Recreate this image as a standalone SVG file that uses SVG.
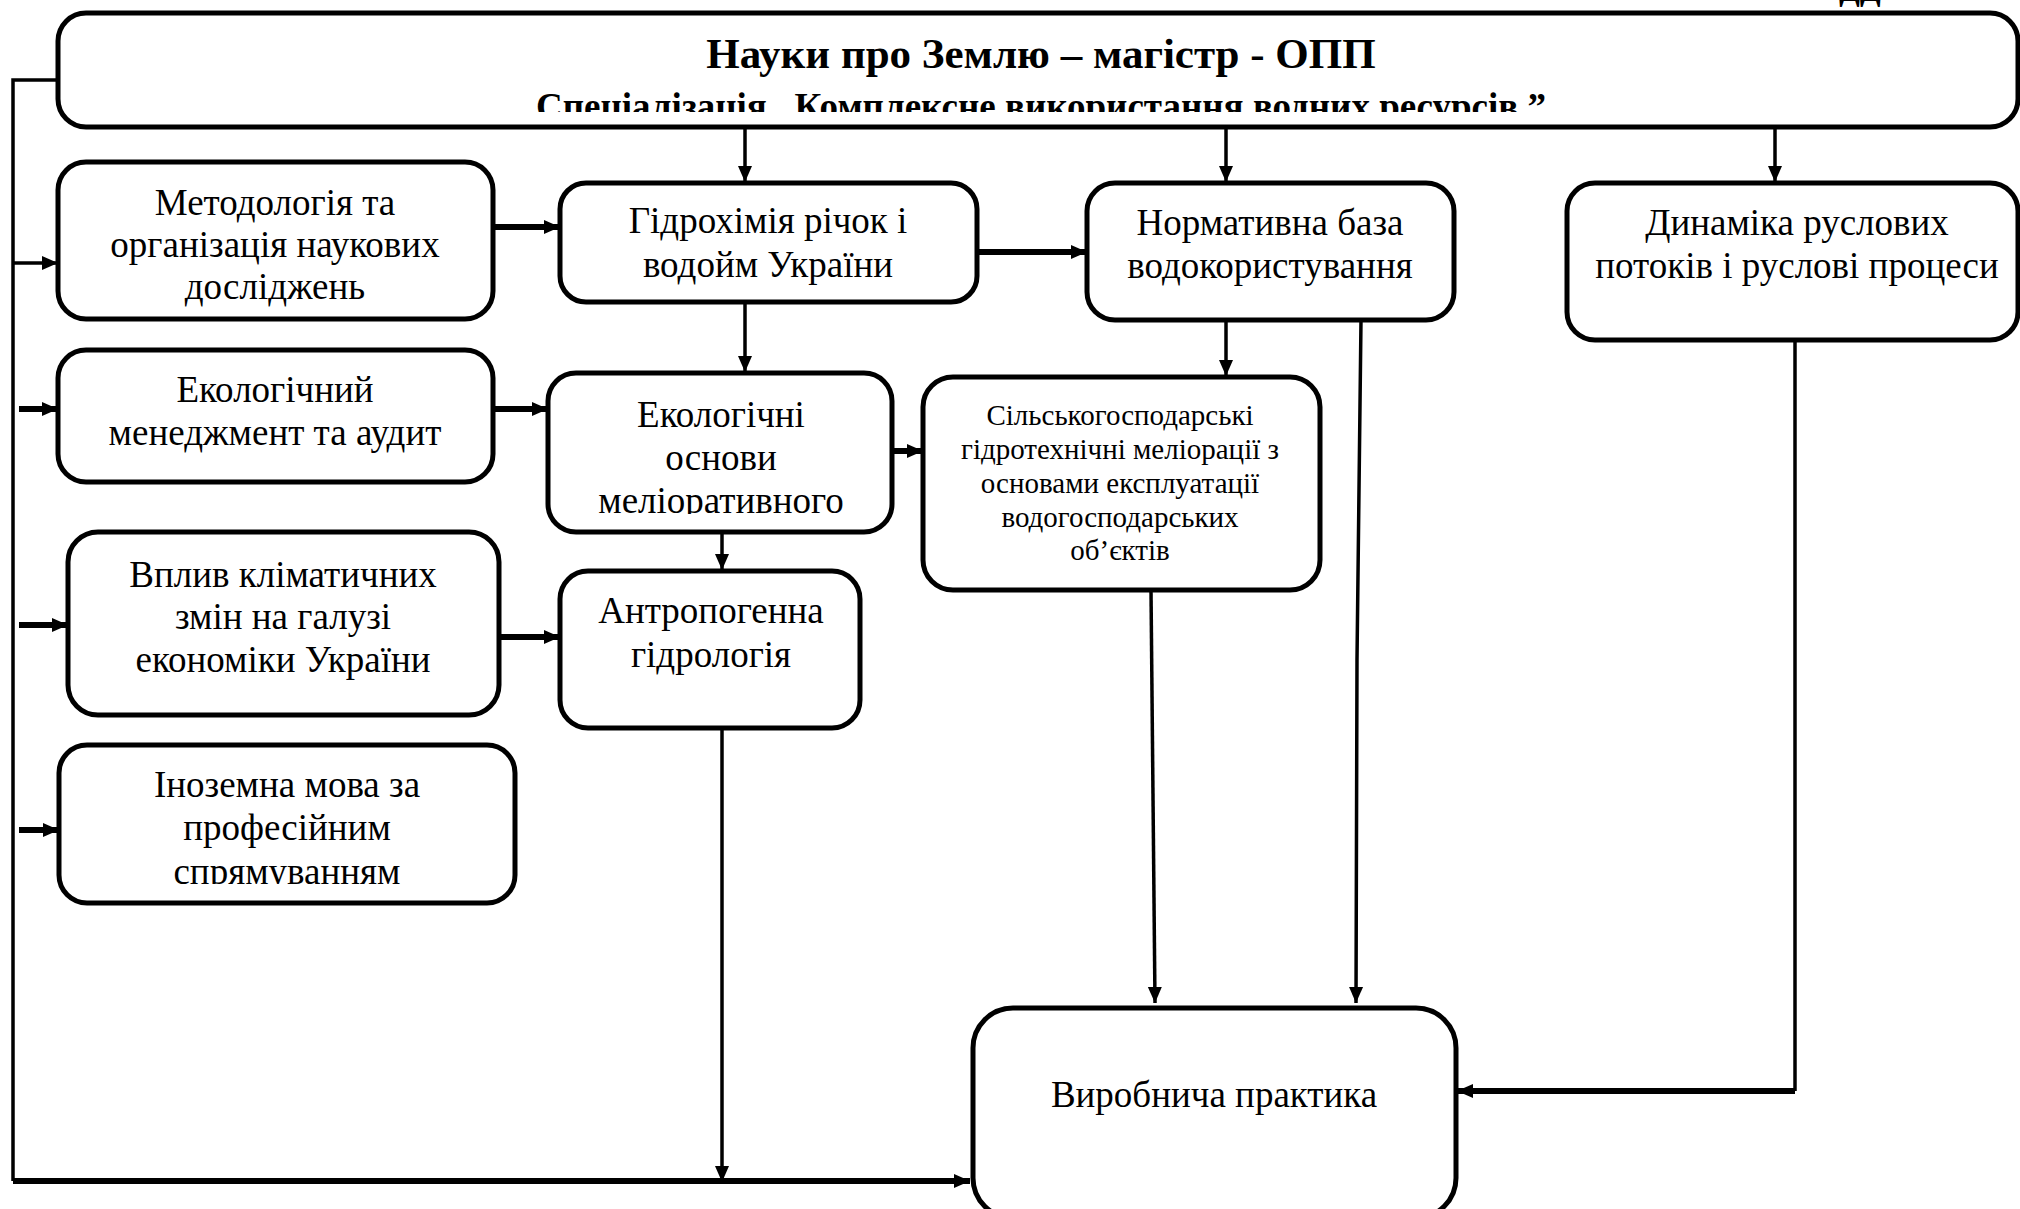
<svg xmlns="http://www.w3.org/2000/svg" width="2020" height="1209" viewBox="0 0 2020 1209">
<style>
.box{fill:#fff;stroke:#000;stroke-width:5}
.t{font-family:"Liberation Serif","Times New Roman",serif;font-size:37px;fill:#000;text-anchor:middle}
.ts{font-family:"Liberation Serif","Times New Roman",serif;font-size:29px;fill:#000;text-anchor:middle}
.tb{font-family:"Liberation Serif","Times New Roman",serif;font-weight:bold;fill:#000;text-anchor:middle}
.c{fill:none;stroke:#000;stroke-width:3.5}
.ck{fill:none;stroke:#000;stroke-width:6}
</style>
<defs>
<marker id="ah" markerUnits="userSpaceOnUse" markerWidth="18" markerHeight="16" refX="16" refY="8" orient="auto">
<path d="M0,1 L16,8 L0,15 Z" fill="#000"/>
</marker>
<clipPath id="clipTop"><rect x="58" y="13" width="1960" height="99"/></clipPath>
<clipPath id="clipEko"><rect x="548" y="373" width="344" height="141"/></clipPath>
<clipPath id="clipIno"><rect x="59" y="745" width="456" height="139"/></clipPath>
</defs>

<text class="tb" x="1860" y="1" font-size="30">ДД</text>

<g id="connectors">
<path class="c" d="M58,80 H13 V1181"/>
<path class="ck" d="M13,1181 H970" marker-end="url(#ah)"/>
<path class="c" d="M13,263 H58" marker-end="url(#ah)"/>
<path class="ck" d="M19,409 H58" marker-end="url(#ah)"/>
<path class="ck" d="M19,625 H68" marker-end="url(#ah)"/>
<path class="ck" d="M19,830 H59" marker-end="url(#ah)"/>
<path class="c" d="M745,127 V182" marker-end="url(#ah)"/>
<path class="c" d="M1226,127 V182" marker-end="url(#ah)"/>
<path class="c" d="M1775,127 V182" marker-end="url(#ah)"/>
<path class="ck" d="M493,227 H560" marker-end="url(#ah)"/>
<path class="ck" d="M977,252 H1087" marker-end="url(#ah)"/>
<path class="c" d="M745,302 V372" marker-end="url(#ah)"/>
<path class="ck" d="M493,409 H548" marker-end="url(#ah)"/>
<path class="ck" d="M892,451 H923" marker-end="url(#ah)"/>
<path class="c" d="M1226,320 V376" marker-end="url(#ah)"/>
<path class="c" d="M722,525 V570" marker-end="url(#ah)"/>
<path class="ck" d="M499,637 H560" marker-end="url(#ah)"/>
<path class="c" d="M722,728 V1182" marker-end="url(#ah)"/>
<path class="c" d="M1151,590 L1155,1003" marker-end="url(#ah)"/>
<path class="c" d="M1361,320 L1357,660 L1356,1003" marker-end="url(#ah)"/>
<path class="c" d="M1795,340 V1091"/>
<path class="ck" d="M1795,1091 H1457" marker-end="url(#ah)"/>
</g>

<g id="n-top">
<rect class="box" x="58" y="13" width="1960" height="114" rx="28"/>
<text class="tb" x="1041" y="68" font-size="43">Науки про Землю – магістр - ОПП</text>
<text class="tb" x="1041" y="119" font-size="37" clip-path="url(#clipTop)">Спеціалізація „Комплексне використання водних ресурсів ”</text>
</g>

<g id="n-metod">
<rect class="box" x="58" y="162" width="435" height="157" rx="28"/>
<text class="t" x="275" y="215">Методологія та</text>
<text class="t" x="275" y="257">організація наукових</text>
<text class="t" x="275" y="299">досліджень</text>
</g>

<g id="n-gidro">
<rect class="box" x="560" y="183" width="417" height="119" rx="26"/>
<text class="t" x="768" y="233">Гідрохімія річок і</text>
<text class="t" x="768" y="277">водойм України</text>
</g>

<g id="n-norm">
<rect class="box" x="1087" y="183" width="367" height="137" rx="28"/>
<text class="t" x="1270" y="235">Нормативна база</text>
<text class="t" x="1270" y="278">водокористування</text>
</g>

<g id="n-dyn">
<rect class="box" x="1567" y="183" width="451" height="157" rx="28"/>
<text class="t" x="1797" y="235">Динаміка руслових</text>
<text class="t" x="1797" y="278">потоків і руслові процеси</text>
</g>

<g id="n-ekomen">
<rect class="box" x="58" y="350" width="435" height="132" rx="28"/>
<text class="t" x="275" y="402">Екологічний</text>
<text class="t" x="275" y="445">менеджмент та аудит</text>
</g>

<g id="n-ekoosn">
<rect class="box" x="548" y="373" width="344" height="159" rx="28"/>
<g clip-path="url(#clipEko)">
<text class="t" x="721" y="427">Екологічні</text>
<text class="t" x="721" y="470">основи</text>
<text class="t" x="721" y="513">меліоративного</text>
</g>
</g>

<g id="n-silsk">
<rect class="box" x="923" y="377" width="397" height="213" rx="30"/>
<text class="ts" x="1120" y="425">Сільськогосподарські</text>
<text class="ts" x="1120" y="459">гідротехнічні меліорації з</text>
<text class="ts" x="1120" y="493">основами експлуатації</text>
<text class="ts" x="1120" y="527">водогосподарських</text>
<text class="ts" x="1120" y="560">об’єктів</text>
</g>

<g id="n-vplyv">
<rect class="box" x="68" y="532" width="431" height="183" rx="30"/>
<text class="t" x="283" y="587">Вплив кліматичних</text>
<text class="t" x="283" y="629">змін на галузі</text>
<text class="t" x="283" y="672">економіки України</text>
</g>

<g id="n-antrop">
<rect class="box" x="560" y="571" width="300" height="157" rx="28"/>
<text class="t" x="711" y="623">Антропогенна</text>
<text class="t" x="711" y="667">гідрологія</text>
</g>

<g id="n-inoz">
<rect class="box" x="59" y="745" width="456" height="158" rx="28"/>
<g clip-path="url(#clipIno)">
<text class="t" x="287" y="797">Іноземна мова за</text>
<text class="t" x="287" y="840">професійним</text>
<text class="t" x="287" y="884">спрямуванням</text>
</g>
</g>

<g id="n-vyrob">
<rect class="box" x="973" y="1008" width="483" height="210" rx="40"/>
<text class="t" x="1214" y="1107">Виробнича практика</text>
</g>
</svg>
